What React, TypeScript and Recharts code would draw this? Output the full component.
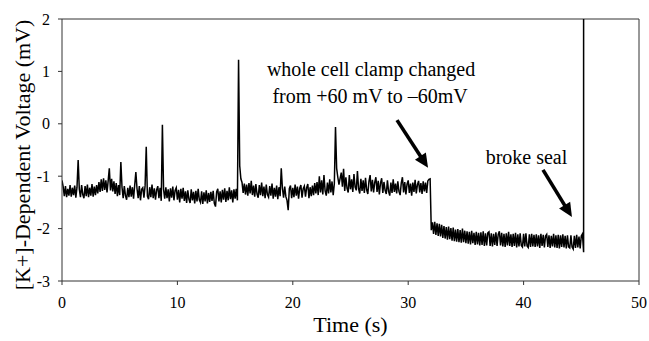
import React from 'react';
import { LineChart, Line, XAxis, YAxis, ReferenceLine, ReferenceDot } from 'recharts';

const FONT = '"Liberation Serif", "Times New Roman", serif';

// sampling interval (s) of the recorded trace
const sampleStep = 0.1;

// t = 0.0 .. 15.2 s
const traceBeforeBigSpike = [
  -1.08, -1.20, -1.38, -1.19, -1.40, -1.24, -1.37, -1.17, -1.39, -1.22,
  -1.36, -1.18, -1.41, -1.21, -0.69, -1.25, -1.40, -1.17, -1.35, -1.42,
  -1.19, -1.38, -1.16, -1.40, -1.22, -1.37, -1.15, -1.39, -1.20, -1.36,
  -1.17, -1.33, -1.11, -1.30, -1.06, -1.28, -1.04, -1.26, -1.08, -1.31,
  -1.09, -0.85, -1.27, -1.05, -1.29, -1.10, -1.34, -1.13, -1.38, -1.17,
  -1.36, -0.73, -1.21, -1.42, -1.19, -1.37, -1.45, -1.22, -1.40, -1.18,
  -1.39, -1.21, -1.43, -1.17, -0.92, -1.24, -1.42, -1.19, -1.46, -1.25,
  -1.22, -1.41, -1.18, -0.44, -1.38, -1.44, -1.21, -1.40, -1.16, -1.42,
  -1.23, -1.45, -1.26, -1.19, -1.42, -1.22, -1.47, -0.02, -1.25, -1.43,
  -1.21, -1.42, -1.25, -1.48, -1.23, -1.41, -1.20, -1.46, -1.27, -1.22,
  -1.45, -1.26, -1.50, -1.24, -1.43, -1.22, -1.47, -1.29, -1.51, -1.27,
  -1.44, -1.51, -1.25, -1.46, -1.30, -1.52, -1.28, -1.48, -1.24, -1.45,
  -1.50, -1.29, -1.53, -1.31, -1.48, -1.27, -1.52, -1.32, -1.49, -1.30,
  -1.47, -1.28, -1.52, -1.58, -1.30, -1.24, -1.48, -1.29, -1.50, -1.26,
  -1.45, -1.23, -1.49, -1.28, -1.46, -1.21, -1.44, -1.27, -1.50, -1.25,
  -1.43, -1.24, -1.46,
];

// t = 15.3 .. 31.9 s
const traceBeforeClampChange = [
  1.22, -0.80, -1.05, -1.12, -1.32, -1.14, -1.35,
  -1.16, -1.37, -1.13, -1.33, -1.09, -1.36, -1.18, -1.39, -1.15, -1.34,
  -1.41, -1.17, -1.36, -1.12, -1.38, -1.20, -1.42, -1.16, -1.35, -1.40,
  -1.19, -1.37, -1.14, -1.43, -1.22, -1.39, -1.18, -1.44, -1.21, -1.38,
  -0.85, -1.23, -1.41, -1.20, -1.39, -1.46, -1.65, -1.24, -1.18, -1.42,
  -1.22, -1.40, -1.16, -1.37, -1.20, -1.43, -1.23, -1.17, -1.41, -1.24,
  -1.19, -1.39, -1.22, -1.15, -1.42, -1.21, -1.38, -1.18, -1.36, -1.13,
  -1.33, -1.11, -1.36, -1.00, -1.31, -1.08, -1.35, -0.98, -1.28, -1.37,
  -1.12, -1.33, -1.06, -1.31, -1.10, -1.36, -1.14, -0.06, -0.85, -1.02,
  -1.16, -1.04, -0.93, -1.20, -0.86, -1.28, -1.02, -1.23, -1.31, -0.98,
  -1.25, -1.06, -1.30, -0.96, -1.21, -1.27, -0.90, -1.24, -1.33, -1.05,
  -1.28, -1.08, -1.32, -1.03, -1.26, -1.34, -1.10, -0.98, -1.29, -1.07,
  -1.31, -1.12, -1.02, -1.30, -1.09, -1.35, -1.13, -1.04, -1.32, -1.11,
  -1.27, -1.34, -1.08, -1.29, -1.37, -1.12, -1.32, -1.06, -1.30, -1.14,
  -1.33, -1.10, -1.29, -1.36, -1.13, -1.02, -1.31, -1.11, -1.35, -1.15,
  -1.08, -1.32, -1.14, -1.37, -1.12, -1.30, -1.07, -1.33, -1.16, -1.09,
  -1.31, -1.13, -1.34, -1.10, -1.29, -1.12, -1.32, -1.09, -1.06, -1.05,
];

// t = 32.0 .. 45.2 s
const traceAfterClampChange = [
  -2.03, -1.88, -2.10, -1.87, -2.12, -1.90, -2.14, -1.91, -2.15, -1.93,
  -2.18, -1.95, -2.19, -1.97, -2.21, -1.96, -2.20, -1.99, -2.23, -1.98,
  -2.24, -2.02, -2.25, -2.01, -2.26, -2.03, -2.27, -2.00, -2.26, -2.04,
  -2.28, -2.05, -2.29, -2.06, -2.30, -2.04, -2.28, -2.08, -2.31, -2.06,
  -2.30, -2.08, -2.32, -2.07, -2.31, -2.05, -2.33, -2.09, -2.32, -2.08,
  -2.06, -2.33, -2.09, -2.34, -2.10, -2.31, -2.07, -2.33, -2.11, -2.05,
  -2.32, -2.08, -2.34, -2.10, -2.35, -2.09, -2.32, -2.06, -2.33, -2.11,
  -2.35, -2.10, -2.33, -2.08, -2.36, -2.11, -2.34, -2.09, -2.32, -2.35,
  -2.10, -2.34, -2.09, -2.33, -2.36, -2.11, -2.35, -2.10, -2.34, -2.12,
  -2.35, -2.11, -2.34, -2.13, -2.37, -2.10, -2.33, -2.12, -2.36, -2.14,
  -2.11, -2.35, -2.13, -2.37, -2.14, -2.34, -2.10, -2.36, -2.13, -2.37,
  -2.12, -2.38, -2.13, -2.35, -2.11, -2.36, -2.14, -2.38, -2.13, -2.35,
  -2.37, -2.13, -2.35, -2.39, -2.14, -2.37, -2.12, -2.36, -2.15, -2.38,
  -2.14, -2.10, -2.45,
];

const segmentStarts = [0, 15.3, 32.0];
const sealBreakTime = 45.2;
const sealBreakPeak = 2.0;

const xTicks = [0, 10, 20, 30, 40, 50];
const yTicks = [-3, -2, -1, 0, 1, 2];

const annotationTexts = ['whole cell clamp changed', 'from +60 mV to \u201360mV', 'broke seal'];

const segments = [traceBeforeBigSpike, traceBeforeClampChange, traceAfterClampChange];
const data: { t: number; v: number }[] = [];
segments.forEach((vals, s) => {
  vals.forEach((v, i) => {
    data.push({ t: +(segmentStarts[s] + i * sampleStep).toFixed(2), v });
  });
});
data.push({ t: sealBreakTime, v: sealBreakPeak });

const ArrowShape = (p: any) => {
  const x1 = Number(p.x1), y1 = Number(p.y1), x2 = Number(p.x2), y2 = Number(p.y2);
  if (![x1, y1, x2, y2].every(Number.isFinite)) return null;
  const dx = x2 - x1, dy = y2 - y1;
  const len = Math.sqrt(dx * dx + dy * dy);
  const ux = dx / len, uy = dy / len;
  const headLen = 14, headHalf = 6.5;
  const bx = x2 - ux * headLen, by = y2 - uy * headLen;
  const px = -uy, py = ux;
  return (
    <g>
      <line x1={x1} y1={y1} x2={bx + ux * 2} y2={by + uy * 2} stroke="#000" strokeWidth={3.6} />
      <polygon
        points={`${x2},${y2} ${bx + px * headHalf},${by + py * headHalf} ${bx - px * headHalf},${by - py * headHalf}`}
        fill="#000"
      />
    </g>
  );
};

const labelStyle = { fontFamily: FONT, fontSize: 20, fill: '#000' };

export default function App() {
  return (
    <div style={{ position: 'absolute', left: 0, top: 0, background: '#fff', fontFamily: FONT }}>
      <LineChart width={649} height={341} data={data} margin={{ top: 19, right: 10, left: 0, bottom: 0 }} style={{ fontFamily: FONT }}>
        <XAxis
          dataKey="t"
          type="number"
          domain={[0, 50]}
          ticks={xTicks}
          allowDataOverflow
          height={60}
          stroke="#333"
          tickSize={4}
          tickMargin={12}
          tick={{ fill: '#000', fontSize: 16, fontFamily: FONT }}
          label={{ value: 'Time (s)', position: 'center', dy: 13, fontFamily: FONT, fontSize: 22, fill: '#000' }}
        />
        <YAxis
          type="number"
          domain={[-3, 2]}
          ticks={yTicks}
          allowDataOverflow
          width={62}
          stroke="#333"
          tickSize={4}
          tickMargin={8}
          tick={{ fill: '#000', fontSize: 16, fontFamily: FONT }}
          label={{
            value: '[K+]-Dependent Voltage (mV)',
            angle: -90,
            position: 'center',
            dx: -9,
            dy: 5,
            fontFamily: FONT,
            fontSize: 22,
            fill: '#000',
          }}
        />
        <ReferenceLine y={2} stroke="#333" strokeWidth={1} />
        <ReferenceLine x={50} stroke="#333" strokeWidth={1} />
        <Line
          dataKey="v"
          type="linear"
          stroke="#000"
          strokeWidth={1.5}
          dot={false}
          activeDot={false}
          isAnimationActive={false}
        />
        <ReferenceLine
          segment={[{ x: 29.03, y: 0.07 }, { x: 31.72, y: -0.84 }]}
          shape={ArrowShape}
        />
        <ReferenceLine
          segment={[{ x: 41.68, y: -0.88 }, { x: 44.19, y: -1.78 }]}
          shape={ArrowShape}
        />
        <ReferenceDot x={26.78} y={1.046} r={0} fill="none" stroke="none"
          label={{ value: annotationTexts[0], position: 'center', ...labelStyle }} />
        <ReferenceDot x={26.7} y={0.527} r={0} fill="none" stroke="none"
          label={{ value: annotationTexts[1], position: 'center', ...labelStyle }} />
        <ReferenceDot x={40.25} y={-0.637} r={0} fill="none" stroke="none"
          label={{ value: annotationTexts[2], position: 'center', ...labelStyle }} />
      </LineChart>
    </div>
  );
}
